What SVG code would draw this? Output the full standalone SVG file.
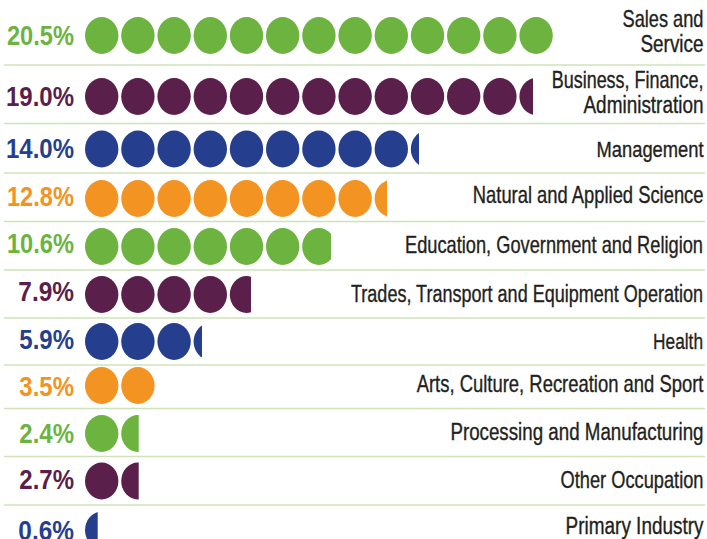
<svg xmlns="http://www.w3.org/2000/svg" xmlns:xlink="http://www.w3.org/1999/xlink" width="707" height="539" viewBox="0 0 707 539">
<style>
.g{fill:#6db33f}.p{fill:#5a1f4a}.b{fill:#253f8e}.o{fill:#f39322}
.pct{font-family:"Liberation Sans",Arial,sans-serif;font-weight:bold;font-size:27px;text-anchor:end}
.lab{font-family:"Liberation Sans",Arial,sans-serif;font-size:23px;fill:#231f20;stroke:#231f20;stroke-width:0.35;text-anchor:end}
.sep{stroke:#cde4b9;stroke-width:1.6;fill:none}
</style>
<defs>
<ellipse id="d" cx="0" cy="0" rx="16.7" ry="18.5"/>
<clipPath id="c2"><rect x="0" y="0" width="533" height="539"/></clipPath>
<clipPath id="c3"><rect x="0" y="0" width="419" height="539"/></clipPath>
<clipPath id="c4"><rect x="0" y="0" width="387" height="539"/></clipPath>
<clipPath id="c5"><rect x="0" y="0" width="331" height="539"/></clipPath>
<clipPath id="c6"><rect x="0" y="0" width="251" height="539"/></clipPath>
<clipPath id="c7"><rect x="0" y="0" width="202" height="539"/></clipPath>
<clipPath id="c9"><rect x="0" y="0" width="138.7" height="539"/></clipPath>
<clipPath id="c11"><rect x="0" y="0" width="97.7" height="539"/></clipPath>
</defs>
<rect width="707" height="539" fill="#ffffff"/>
<g id="separators">
<line class="sep" x1="4" y1="65" x2="705" y2="65"/>
<line class="sep" x1="4" y1="123.5" x2="705" y2="123.5"/>
<line class="sep" x1="4" y1="173" x2="705" y2="173"/>
<line class="sep" x1="4" y1="221.5" x2="705" y2="221.5"/>
<line class="sep" x1="4" y1="270" x2="705" y2="270"/>
<line class="sep" x1="4" y1="318" x2="705" y2="318"/>
<line class="sep" x1="4" y1="365" x2="705" y2="365"/>
<line class="sep" x1="4" y1="408.5" x2="705" y2="408.5"/>
<line class="sep" x1="4" y1="456.5" x2="705" y2="456.5"/>
<line class="sep" x1="4" y1="505" x2="705" y2="505"/>
</g>
<g id="row-sales">
<text class="pct g" transform="translate(74 45) scale(0.876 1)">20.5%</text>
<g class="g">
<use href="#d" x="101.7" y="35.5"/><use href="#d" x="137.9" y="35.5"/><use href="#d" x="174.1" y="35.5"/><use href="#d" x="210.3" y="35.5"/><use href="#d" x="246.5" y="35.5"/><use href="#d" x="282.7" y="35.5"/><use href="#d" x="318.9" y="35.5"/><use href="#d" x="355.1" y="35.5"/><use href="#d" x="391.3" y="35.5"/><use href="#d" x="427.5" y="35.5"/><use href="#d" x="463.7" y="35.5"/><use href="#d" x="499.9" y="35.5"/><use href="#d" x="536.1" y="35.5"/>
</g>
<text class="lab" transform="translate(703.5 26.7) scale(0.792 1)">Sales and</text>
<text class="lab" transform="translate(703.5 51.7) scale(0.822 1)">Service</text>
</g>
<g id="row-business">
<text class="pct p" transform="translate(74 106) scale(0.889 1)">19.0%</text>
<g class="p">
<use href="#d" x="101.7" y="96.5"/><use href="#d" x="137.9" y="96.5"/><use href="#d" x="174.1" y="96.5"/><use href="#d" x="210.3" y="96.5"/><use href="#d" x="246.5" y="96.5"/><use href="#d" x="282.7" y="96.5"/><use href="#d" x="318.9" y="96.5"/><use href="#d" x="355.1" y="96.5"/><use href="#d" x="391.3" y="96.5"/><use href="#d" x="427.5" y="96.5"/><use href="#d" x="463.7" y="96.5"/><use href="#d" x="499.9" y="96.5"/><g clip-path="url(#c2)"><use href="#d" x="536.1" y="96.5"/></g>
</g>
<text class="lab" transform="translate(703.5 88.3) scale(0.782 1)">Business, Finance,</text>
<text class="lab" transform="translate(703.5 113) scale(0.824 1)">Administration</text>
</g>
<g id="row-management">
<text class="pct b" transform="translate(74 158.3) scale(0.889 1)">14.0%</text>
<g class="b">
<use href="#d" x="101.7" y="149"/><use href="#d" x="137.9" y="149"/><use href="#d" x="174.1" y="149"/><use href="#d" x="210.3" y="149"/><use href="#d" x="246.5" y="149"/><use href="#d" x="282.7" y="149"/><use href="#d" x="318.9" y="149"/><use href="#d" x="355.1" y="149"/><use href="#d" x="391.3" y="149"/><g clip-path="url(#c3)"><use href="#d" x="427.5" y="149"/></g>
</g>
<text class="lab" transform="translate(703.5 156.7) scale(0.797 1)">Management</text>
</g>
<g id="row-science">
<text class="pct o" transform="translate(74 205.7) scale(0.876 1)">12.8%</text>
<g class="o">
<use href="#d" x="101.7" y="198.5"/><use href="#d" x="137.9" y="198.5"/><use href="#d" x="174.1" y="198.5"/><use href="#d" x="210.3" y="198.5"/><use href="#d" x="246.5" y="198.5"/><use href="#d" x="282.7" y="198.5"/><use href="#d" x="318.9" y="198.5"/><use href="#d" x="355.1" y="198.5"/><g clip-path="url(#c4)"><use href="#d" x="391.3" y="198.5"/></g>
</g>
<text class="lab" transform="translate(703.5 203.3) scale(0.799 1)">Natural and Applied Science</text>
</g>
<g id="row-education">
<text class="pct g" transform="translate(74 253.3) scale(0.876 1)">10.6%</text>
<g class="g">
<use href="#d" x="101.7" y="246.5"/><use href="#d" x="137.9" y="246.5"/><use href="#d" x="174.1" y="246.5"/><use href="#d" x="210.3" y="246.5"/><use href="#d" x="246.5" y="246.5"/><use href="#d" x="282.7" y="246.5"/><g clip-path="url(#c5)"><use href="#d" x="318.9" y="246.5"/></g>
</g>
<text class="lab" transform="translate(703 253.3) scale(0.793 1)">Education, Government and Religion</text>
</g>
<g id="row-trades">
<text class="pct p" transform="translate(74 301) scale(0.905 1)">7.9%</text>
<g class="p">
<use href="#d" x="101.7" y="294.5"/><use href="#d" x="137.9" y="294.5"/><use href="#d" x="174.1" y="294.5"/><use href="#d" x="210.3" y="294.5"/><g clip-path="url(#c6)"><use href="#d" x="246.5" y="294.5"/></g>
</g>
<text class="lab" transform="translate(703 301.7) scale(0.784 1)">Trades, Transport and Equipment Operation</text>
</g>
<g id="row-health">
<text class="pct b" transform="translate(74 349.3) scale(0.889 1)">5.9%</text>
<g class="b">
<use href="#d" x="101.7" y="341.5"/><use href="#d" x="137.9" y="341.5"/><use href="#d" x="174.1" y="341.5"/><g clip-path="url(#c7)"><use href="#d" x="210.3" y="341.5"/></g>
</g>
<text class="lab" transform="translate(703 348.7) scale(0.752 1)">Health</text>
</g>
<g id="row-arts">
<text class="pct o" transform="translate(74 396) scale(0.889 1)">3.5%</text>
<g class="o">
<use href="#d" x="101.7" y="385.5"/><use href="#d" x="137.9" y="385.5"/>
</g>
<text class="lab" transform="translate(703.5 392.3) scale(0.802 1)">Arts, Culture, Recreation and Sport</text>
</g>
<g id="row-processing">
<text class="pct g" transform="translate(74 443.3) scale(0.889 1)">2.4%</text>
<g class="g">
<use href="#d" x="101.7" y="433.5"/><g clip-path="url(#c9)"><use href="#d" x="137.9" y="433.5"/></g>
</g>
<text class="lab" transform="translate(703.5 440) scale(0.815 1)">Processing and Manufacturing</text>
</g>
<g id="row-other">
<text class="pct p" transform="translate(74 489.3) scale(0.889 1)">2.7%</text>
<g class="p">
<use href="#d" x="101.7" y="481"/><g clip-path="url(#c9)"><use href="#d" x="137.9" y="481"/></g>
</g>
<text class="lab" transform="translate(703.5 487.7) scale(0.793 1)">Other Occupation</text>
</g>
<g id="row-primary">
<text class="pct b" transform="translate(74 540) scale(0.905 1)">0.6%</text>
<g class="b">
<g clip-path="url(#c11)"><use href="#d" x="101.7" y="530"/></g>
</g>
<text class="lab" transform="translate(703.5 534) scale(0.824 1)">Primary Industry</text>
</g>
</svg>
